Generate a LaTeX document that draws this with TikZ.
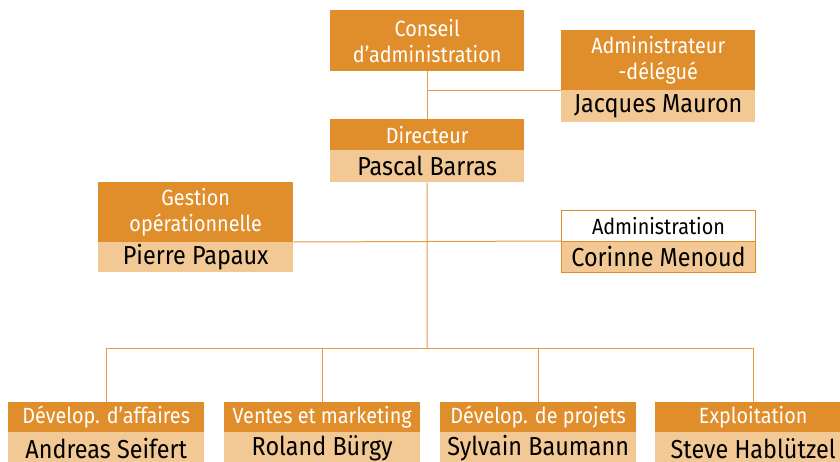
\documentclass[tikz,border=0pt]{standalone}
\usepackage{fontspec}
\setmainfont[FakeStretch=0.9]{Fira Sans}
\newfontfamily\orgfont[FakeStretch=0.9]{Fira Sans}
\definecolor{orgC}{HTML}{E08E2B}
\definecolor{begC}{HTML}{F2C994}
\definecolor{lineC}{HTML}{E59A45}
\begin{document}
\begin{tikzpicture}[x=1pt,y=-1pt,
  hdr/.style={fill=orgC, text=white, inner sep=0pt, anchor=north west, align=center,
    font=\orgfont\fontsize{22}{26}\selectfont},
  nm/.style={fill=begC, text=black, inner sep=0pt, anchor=north west, align=center,
    font=\orgfont\fontsize{26}{28}\selectfont},
  wbox/.style={fill=white, draw=orgC, line width=1pt, text=black, inner sep=0pt, anchor=north west, align=center,
    font=\orgfont\fontsize{22}{26}\selectfont},
  link/.style={draw=lineC, line width=1pt}]
\useasboundingbox (0,0) rectangle (840,461);

% top
\node[hdr, minimum width=194pt, minimum height=61pt] (conseil) at (330,10) {Conseil\\d’administration};
\node[hdr, minimum width=194pt, minimum height=60pt] (adel) at (561,30) {Administrateur\\-délégué};
\node[nm, minimum width=194pt, minimum height=32pt] (adeln) at (561,90) {Jacques Mauron};
\node[hdr, minimum width=194pt, minimum height=31pt] (dir) at (330,119) {Directeur};
\node[nm, minimum width=194pt, minimum height=32pt] (dirn) at (330,150) {Pascal Barras};

% middle
\node[hdr, minimum width=195pt, minimum height=60pt] (gest) at (98,182) {Gestion\\opérationnelle};
\node[nm, minimum width=195pt, minimum height=30pt] (gestn) at (98,242) {Pierre Papaux};
\node[wbox, minimum width=194pt, minimum height=31pt] (adm) at (561,210) {Administration};
\node[wbox, fill=begC, minimum width=194pt, minimum height=31pt, font=\orgfont\fontsize{26}{28}\selectfont] (admn) at (561,241) {Corinne Menoud};

% bottom
\node[hdr, minimum width=196pt, minimum height=30pt] (b1) at (8,402) {Dévelop. d’affaires};
\node[nm, minimum width=196pt, minimum height=32pt] (b1n) at (8,432) {Andreas Seifert};
\node[hdr, minimum width=196pt, minimum height=30pt] (b2) at (224,402) {Ventes et marketing};
\node[nm, minimum width=196pt, minimum height=32pt] (b2n) at (224,432) {Roland Bürgy};
\node[hdr, minimum width=196pt, minimum height=30pt] (b3) at (440,402) {Dévelop. de projets};
\node[nm, minimum width=196pt, minimum height=32pt] (b3n) at (440,432) {Sylvain Baumann};
\node[hdr, minimum width=196pt, minimum height=30pt] (b4) at (655,402) {Exploitation};
\node[nm, minimum width=196pt, minimum height=32pt] (b4n) at (655,432) {Steve Hablützel};

\coordinate (bus) at (427,348);

% connectors
\draw[link] (conseil.south) -- (dir.north);
\draw[link] (conseil.south |- adeln.north west) -- (adeln.north west);
\draw[link] (dirn.south) -- (bus);
\draw[link] (gestn.north east) -- (admn.north west);
\draw[link] (b1.north |- bus) -- (b4.north |- bus);
\draw[link] (b1.north |- bus) -- (b1.north);
\draw[link] (b2.north |- bus) -- (b2.north);
\draw[link] (b3.north |- bus) -- (b3.north);
\draw[link] (b4.north |- bus) -- (b4.north);
\end{tikzpicture}
\end{document}
